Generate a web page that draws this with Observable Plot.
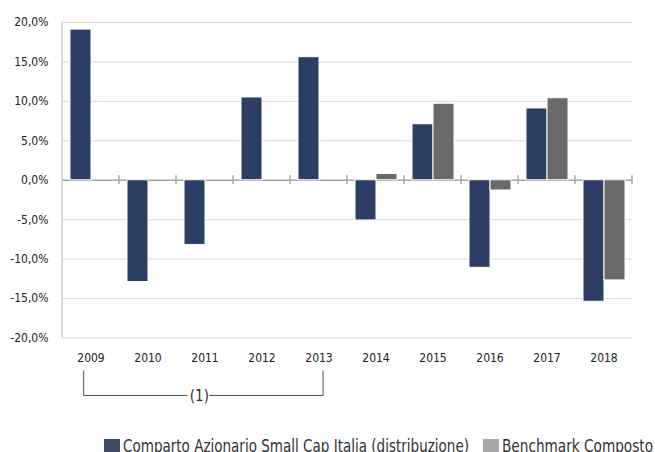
<!DOCTYPE html>
<html>
<head>
<meta charset="utf-8">
<script src="https://cdn.jsdelivr.net/npm/d3@7"></script>
<script src="https://cdn.jsdelivr.net/npm/@observablehq/plot@0.6"></script>
<style>
  html, body { margin: 0; padding: 0; background: #fff; }
  body { width: 655px; height: 452px; overflow: hidden; font-family: "DejaVu Sans Condensed", "DejaVu Sans", sans-serif; }
  #legend { position: relative; height: 42px; font-size: 18px; color: #333; }
  #legend .sw { position: absolute; top: 29px; width: 16px; height: 14px; }
  #legend .lbl { position: absolute; top: 27px; white-space: nowrap; line-height: 18px; transform-origin: 0 50%; display: inline-block; }
</style>
</head>
<body>
<div id="chart"></div>
<div id="legend"></div>
<script>
const years = ["2009","2010","2011","2012","2013","2014","2015","2016","2017","2018"];
const seriesNames = ["Comparto Azionario Small Cap Italia (distribuzione)", "Benchmark Composto"];
const fundValues = [19.1, -12.9, -8.2, 10.5, 15.6, -5.1, 7.1, -11.1, 9.1, -15.4];
const benchValues = [null, null, null, null, null, 0.8, 9.7, -1.3, 10.4, -12.7];
const yTicks = [-20, -15, -10, -5, 0, 5, 10, 15, 20];
const barColors = ["#2c3e64", "#6a6a6a"];
const swatchColors = ["#3e4a66", "#a8a8aa"];
const bracketYears = ["2009", "2013"];
const bracketLabel = "(1)";

const data = [];
years.forEach((yr, i) => {
  data.push({year: yr, series: seriesNames[0], value: fundValues[i]});
  if (benchValues[i] != null) data.push({year: yr, series: seriesNames[1], value: benchValues[i]});
});

const chart = Plot.plot({
  width: 655,
  height: 410,
  marginTop: 22,
  marginBottom: 72.5,
  marginLeft: 60,
  marginRight: 22,
  style: {fontFamily: '"DejaVu Sans Condensed", "DejaVu Sans", sans-serif', fontSize: "12px", color: "#222", background: "#fff"},
  fx: {domain: years, padding: 0, axis: "bottom", tickSize: 0, tickPadding: 15, label: null},
  x: {domain: seriesNames, paddingInner: 0, paddingOuter: 0.35, axis: null},
  y: {domain: [-20, 20], ticks: yTicks, tickSize: 0, tickPadding: 14, label: null,
      tickFormat: d => d.toFixed(1).replace(".", ",") + "%"},
  color: {domain: seriesNames, range: barColors},
  marks: [
    Plot.ruleY(yTicks, {stroke: "#d9d9d9", strokeWidth: 1}),
    Plot.ruleY([0], {stroke: "#a8a8a8", strokeWidth: 1.5}),
    Plot.barY(data, {fx: "year", x: "series", y: "value", fill: "series", stroke: "#fff", strokeWidth: 1,
      style: "filter: drop-shadow(1px 1px 1px rgba(0,0,0,0.25))"})
  ]
});

document.getElementById("chart").appendChild(chart);

// extra decorations using the chart's own scales
const svg = d3.select(chart.tagName.toLowerCase() === "svg" ? chart : chart.querySelector("svg"));
const fx = chart.scale("fx");
const y = chart.scale("y");
const bw = fx.bandwidth;
const y0 = y.apply(0);
const yTop = y.apply(20), yBot = y.apply(-20);
const left = fx.apply(years[0]);
const g = svg.append("g");
// left axis line
g.append("line").attr("x1", left).attr("x2", left).attr("y1", yTop).attr("y2", yBot)
  .attr("stroke", "#cfcfcf").attr("stroke-width", 1.5);
// category boundary ticks on zero line
years.slice(1).concat(["end"]).forEach(yr => {
  const xx = yr === "end" ? fx.apply(years[years.length - 1]) + bw : fx.apply(yr);
  g.append("line").attr("x1", xx).attr("x2", xx).attr("y1", y0 - 4.5).attr("y2", y0 + 4.5)
    .attr("stroke", "#a8a8a8").attr("stroke-width", 1.5);
});
// bracket
const bx1 = fx.apply(bracketYears[0]) + bw * 0.38;
const bx2 = fx.apply(bracketYears[1]) + bw * 0.58;
const by1 = yBot + 33, by2 = yBot + 58;
const mid = (bx1 + bx2) / 2 - 4;
const bracketColor = "#555";
g.append("path").attr("fill", "none").attr("stroke", bracketColor).attr("stroke-width", 1)
  .attr("d", `M${bx1},${by1}V${by2}H${mid - 12}`);
g.append("path").attr("fill", "none").attr("stroke", bracketColor).attr("stroke-width", 1)
  .attr("d", `M${mid + 10},${by2}H${bx2}V${by1}`);
g.append("text").attr("x", mid).attr("y", by2).attr("dy", "0.35em").attr("text-anchor", "middle")
  .attr("font-size", 15).attr("fill", "#333").text(bracketLabel);

// legend (swatch x, text x, text target width)
const legend = document.getElementById("legend");
const swatchX = [104, 483];
const textX = [123, 502];
const textW = [346, 151];
seriesNames.forEach((name, i) => {
  const sw = document.createElement("span");
  sw.className = "sw";
  sw.style.left = swatchX[i] + "px";
  sw.style.background = swatchColors[i];
  legend.appendChild(sw);
  const lbl = document.createElement("span");
  lbl.className = "lbl";
  lbl.style.left = textX[i] + "px";
  lbl.textContent = name;
  legend.appendChild(lbl);
  const w = lbl.getBoundingClientRect().width;
  lbl.style.transform = `scaleX(${textW[i] / w})`;
});
</script>
</body>
</html>
